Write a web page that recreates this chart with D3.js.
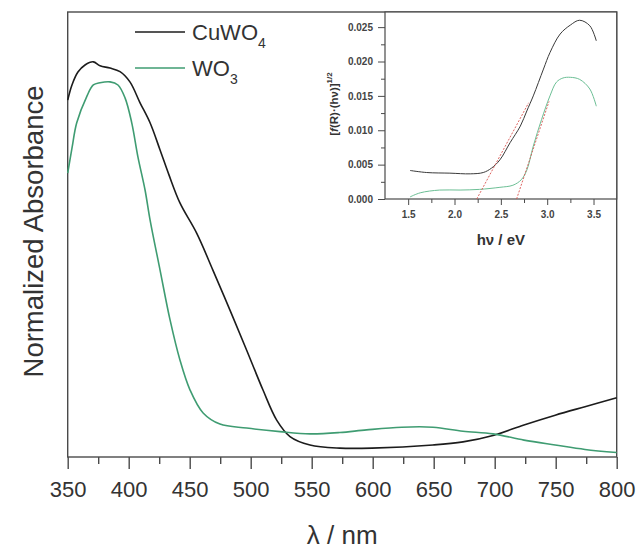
<!DOCTYPE html>
<html>
<head>
<meta charset="utf-8">
<script src="https://cdn.jsdelivr.net/npm/d3@7"></script>
<style>
  html, body { margin: 0; padding: 0; background: #fff; }
  svg { display: block; font-family: "Liberation Sans", Arial, sans-serif; }
</style>
</head>
<body>
<svg id="chart" width="638" height="551"></svg>
<script>
// ---------- Main chart data (wavelength nm, normalized absorbance) ----------
const cuwo4Wavelength = [350, 353.5, 358.4, 364.2, 371, 376.5, 384.7, 392.9, 401, 409.3, 417.5, 425.7, 433, 442, 455.7, 469, 483, 496.7, 510, 521.3, 532.2, 548.6, 573, 599.4, 649.4, 674, 699.4, 724, 749.6, 774, 800];
const cuwo4Absorbance = [0.802, 0.836, 0.865, 0.881, 0.888, 0.879, 0.874, 0.866, 0.843, 0.796, 0.751, 0.690, 0.634, 0.571, 0.503, 0.420, 0.330, 0.240, 0.151, 0.083, 0.046, 0.027, 0.020, 0.020, 0.027, 0.034, 0.049, 0.072, 0.094, 0.113, 0.133];

const wo3Wavelength = [350, 353.5, 357.4, 365.6, 371, 376.5, 384.7, 391.2, 397, 402.5, 407.6, 413.4, 417.5, 425.7, 433.9, 442, 450.2, 461, 474.8, 496.7, 524, 548.6, 573, 595, 623.8, 649.4, 674, 698.6, 724, 749.6, 774, 800];
const wo3Absorbance = [0.638, 0.694, 0.751, 0.810, 0.836, 0.841, 0.843, 0.836, 0.807, 0.751, 0.674, 0.600, 0.533, 0.420, 0.308, 0.218, 0.151, 0.099, 0.074, 0.065, 0.057, 0.052, 0.055, 0.061, 0.067, 0.067, 0.058, 0.052, 0.038, 0.027, 0.017, 0.010];

const xTickValues = [350, 400, 450, 500, 550, 600, 650, 700, 750, 800];
const seriesNames = ["CuWO4", "WO3"];

// ---------- Inset data (photon energy eV, [f(R)·hν]^1/2) ----------
const insetCuwo4Energy = [1.52, 1.70, 1.95, 2.17, 2.31, 2.40, 2.49, 2.60, 2.71, 2.78, 2.85, 2.96, 3.03, 3.14, 3.25, 3.35, 3.46, 3.53];
const insetCuwo4Value = [0.00415, 0.00385, 0.00376, 0.00366, 0.00385, 0.0045, 0.0057, 0.0082, 0.0106, 0.0128, 0.0150, 0.0189, 0.0213, 0.0240, 0.0253, 0.0260, 0.0252, 0.0230];

const insetWo3Energy = [1.52, 1.63, 1.84, 2.06, 2.27, 2.49, 2.63, 2.72, 2.78, 2.85, 2.94, 3.03, 3.10, 3.17, 3.25, 3.35, 3.46, 3.53];
const insetWo3Value = [0.0003, 0.0009, 0.0013, 0.0013, 0.0014, 0.0017, 0.0020, 0.0028, 0.0042, 0.0077, 0.0116, 0.0150, 0.0170, 0.0176, 0.0177, 0.0174, 0.0160, 0.0135];

// Tauc extrapolation lines (start/end points)
const fitCuwo4Energy = [2.24, 2.80];
const fitCuwo4Value = [0.0, 0.0140];
const fitWo3Energy = [2.67, 3.02];
const fitWo3Value = [0.0, 0.0142];

const insetXTicks = [1.5, 2.0, 2.5, 3.0, 3.5];
const insetYTicks = [0.000, 0.005, 0.010, 0.015, 0.020, 0.025];

// ---------- Drawing ----------
const svg = d3.select("#chart");
const axisColor = "#4a4a4a";
const textColor = "#333";

const L = 67.7, R = 616.7, T = 12, B = 457;
const x = d3.scaleLinear().domain([350, 800]).range([L, R]);
const y = d3.scaleLinear().domain([0, 1]).range([B, T]);

// frame
svg.append("rect").attr("x", L).attr("y", T).attr("width", R - L).attr("height", B - T)
  .attr("fill", "none").attr("stroke", axisColor).attr("stroke-width", 1.4);

// minor ticks
const minorAxis = d3.axisBottom(x).tickValues(d3.range(375, 800, 50)).tickSize(7).tickFormat("");
const gMinor = svg.append("g").attr("transform", `translate(0,${B})`).call(minorAxis);
gMinor.select(".domain").remove();
gMinor.selectAll("line").attr("stroke", axisColor).attr("stroke-width", 1.4);

// major ticks
const majorAxis = d3.axisBottom(x).tickValues(xTickValues).tickSize(12).tickPadding(12).tickFormat(d3.format("d"));
const gMajor = svg.append("g").attr("transform", `translate(0,${B})`).call(majorAxis);
gMajor.select(".domain").remove();
gMajor.selectAll("line").attr("stroke", axisColor).attr("stroke-width", 1.4);
gMajor.selectAll("text").attr("font-size", 22).attr("fill", textColor)
  .attr("font-family", "Liberation Sans, Arial, sans-serif");

// axis labels
svg.append("text").attr("x", (L + R) / 2).attr("y", 544).attr("text-anchor", "middle")
  .attr("font-size", 26).attr("fill", textColor).text("λ / nm");
svg.append("text").attr("transform", "translate(43,231.5) rotate(-90)").attr("text-anchor", "middle")
  .attr("font-size", 27.5).attr("fill", textColor).text("Normalized Absorbance");

// curves
const line = d3.line().curve(d3.curveCatmullRom.alpha(0.5));
const mainSeries = [
  { name: seriesNames[0], xs: cuwo4Wavelength, ys: cuwo4Absorbance, color: "#1c1c1c" },
  { name: seriesNames[1], xs: wo3Wavelength, ys: wo3Absorbance, color: "#3f9c72" }
];
mainSeries.forEach(s => {
  svg.append("path")
    .attr("d", line(s.xs.map((v, i) => [x(v), y(s.ys[i])])))
    .attr("fill", "none").attr("stroke", s.color).attr("stroke-width", 1.6);
});

// legend
const legendY = [32, 68];
const legendSub = ["4", "3"];
mainSeries.forEach((s, i) => {
  svg.append("line").attr("x1", 135).attr("x2", 185).attr("y1", legendY[i]).attr("y2", legendY[i])
    .attr("stroke", s.color).attr("stroke-width", 1.6);
  const t = svg.append("text").attr("x", 192).attr("y", legendY[i] + 7.5)
    .attr("font-size", 22).attr("fill", textColor);
  t.append("tspan").text(s.name.slice(0, -1));
  t.append("tspan").attr("font-size", 14).attr("dy", 8).text(legendSub[i]);
});

// ---------- Inset ----------
const iL = 385, iR = R, iT = T, iB = 199;
const ix = d3.scaleLinear().domain([1.25, 3.75]).range([iL, iR]);
const iy = d3.scaleLinear().domain([0, 0.0272]).range([iB, iT]);

svg.append("rect").attr("x", iL).attr("y", iT).attr("width", iR - iL).attr("height", iB - iT)
  .attr("fill", "#fff").attr("stroke", axisColor).attr("stroke-width", 1.2);

// inset x ticks
const ixMinor = svg.append("g").attr("transform", `translate(0,${iB})`)
  .call(d3.axisBottom(ix).tickValues([1.75, 2.25, 2.75, 3.25]).tickSize(4).tickFormat(""));
ixMinor.select(".domain").remove();
ixMinor.selectAll("line").attr("stroke", axisColor);
const ixMajor = svg.append("g").attr("transform", `translate(0,${iB})`)
  .call(d3.axisBottom(ix).tickValues(insetXTicks).tickSize(6).tickPadding(6).tickFormat(d3.format(".1f")));
ixMajor.select(".domain").remove();
ixMajor.selectAll("line").attr("stroke", axisColor);
ixMajor.selectAll("text").attr("font-size", 10).attr("font-weight", "bold").attr("fill", "#444")
  .attr("font-family", "Liberation Sans, Arial, sans-serif");

// inset y ticks
const iyMinor = svg.append("g").attr("transform", `translate(${iL},0)`)
  .call(d3.axisLeft(iy).tickValues([0.0025, 0.0075, 0.0125, 0.0175, 0.0225]).tickSize(4).tickFormat(""));
iyMinor.select(".domain").remove();
iyMinor.selectAll("line").attr("stroke", axisColor);
const iyMajor = svg.append("g").attr("transform", `translate(${iL},0)`)
  .call(d3.axisLeft(iy).tickValues(insetYTicks).tickSize(7).tickPadding(5).tickFormat(d3.format(".3f")));
iyMajor.select(".domain").remove();
iyMajor.selectAll("line").attr("stroke", axisColor);
iyMajor.selectAll("text").attr("font-size", 10).attr("font-weight", "bold").attr("fill", "#444")
  .attr("font-family", "Liberation Sans, Arial, sans-serif");

// inset labels
svg.append("text").attr("x", (iL + iR) / 2).attr("y", 245).attr("text-anchor", "middle")
  .attr("font-size", 15).attr("font-weight", "bold").attr("fill", textColor).text("hν / eV");
const iyl = svg.append("text").attr("transform", "translate(338,104) rotate(-90)").attr("text-anchor", "middle")
  .attr("font-size", 11.5).attr("font-weight", "bold").attr("fill", textColor);
iyl.append("tspan").text("[");
iyl.append("tspan").attr("font-style", "italic").text("f");
iyl.append("tspan").text("(R)·(hν)]");
iyl.append("tspan").attr("font-size", 8).attr("dy", -6).text("1/2");

// inset curves
const insetSeries = [
  { xs: insetCuwo4Energy, ys: insetCuwo4Value, color: "#3a3a3a" },
  { xs: insetWo3Energy, ys: insetWo3Value, color: "#6cbf95" }
];
insetSeries.forEach(s => {
  svg.append("path")
    .attr("d", line(s.xs.map((v, i) => [ix(v), iy(s.ys[i])])))
    .attr("fill", "none").attr("stroke", s.color).attr("stroke-width", 1);
});

// fit lines
[[fitCuwo4Energy, fitCuwo4Value], [fitWo3Energy, fitWo3Value]].forEach(([xs, ys]) => {
  svg.append("path")
    .attr("d", d3.line()(xs.map((v, i) => [ix(v), iy(ys[i])])))
    .attr("fill", "none").attr("stroke", "#d9534f").attr("stroke-width", 0.9)
    .attr("stroke-dasharray", "2,1.5");
});
</script>
</body>
</html>
